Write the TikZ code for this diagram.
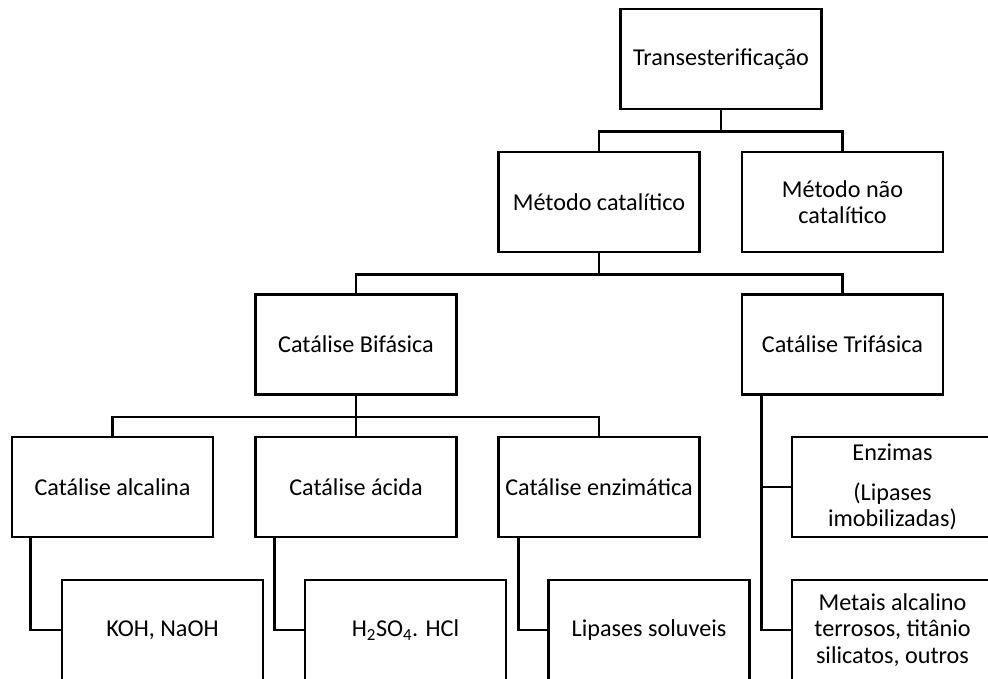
\documentclass[tikz,border=0pt]{standalone}
\usepackage{fontspec}
\setmainfont{Carlito}
\begin{document}
\begin{tikzpicture}[x=1pt,y=-1pt,
  box/.style={draw, line width=2.8pt, minimum width=201pt, minimum height=100pt, inner sep=2pt, align=center, font=\fontsize{24.2}{26.5}\selectfont},
  conn/.style={line width=2.8pt}]
\clip (0,0) rectangle (988,679);
\useasboundingbox (0,0) rectangle (988,679);
\fill[white] (0,0) rectangle (988,679);
% level 0
\node[box] (trans) at (721,59) {Transesterificação};
% level 1
\node[box] (cat) at (599,202) {Método catalítico};
\node[box] (ncat) at (842.5,202) {Método não\\catalítico};
% level 2
\node[box] (bif) at (356,344.5) {Catálise Bifásica};
\node[box] (tri) at (842.5,344.5) {Catálise Trifásica};
% level 3
\node[box] (alc) at (112.5,487) {Catálise alcalina};
\node[box] (acid) at (356,487) {Catálise ácida};
\node[box] (enz) at (599,487) {Catálise enzimática};
\node[box] (enzimas) at (892.5,487) {Enzimas\\[13pt](Lipases\\imobilizadas)};
% level 4
\node[box] (koh) at (162.5,630) {KOH, NaOH};
\node[box] (h2so4) at (405.5,630) {H\textsubscript{2}SO\textsubscript{4}. HCl};
\node[box] (lip) at (649,630) {Lipases soluveis};
\node[box] (met) at (892.5,630) {Metais alcalino\\terrosos, titânio\\silicatos, outros};
% connectors
\draw[conn] (trans.south) -- ++(0,21.5) -| (cat.north);
\draw[conn] (trans.south) -- ++(0,21.5) -| (ncat.north);
\draw[conn] (cat.south) -- ++(0,21) -| (bif.north);
\draw[conn] (cat.south) -- ++(0,21) -| (tri.north);
\draw[conn] (bif.south) -- ++(0,21) -| (alc.north);
\draw[conn] (bif.south) -- ++(0,21) -| (acid.north);
\draw[conn] (bif.south) -- ++(0,21) -| (enz.north);
\draw[conn] ([xshift=21pt]tri.south west) |- (enzimas.west);
\draw[conn] ([xshift=21pt]tri.south west) |- (met.west);
\draw[conn] ([xshift=20pt]alc.south west) |- (koh.west);
\draw[conn] ([xshift=20pt]acid.south west) |- (h2so4.west);
\draw[conn] ([xshift=21pt]enz.south west) |- (lip.west);
\end{tikzpicture}
\end{document}
